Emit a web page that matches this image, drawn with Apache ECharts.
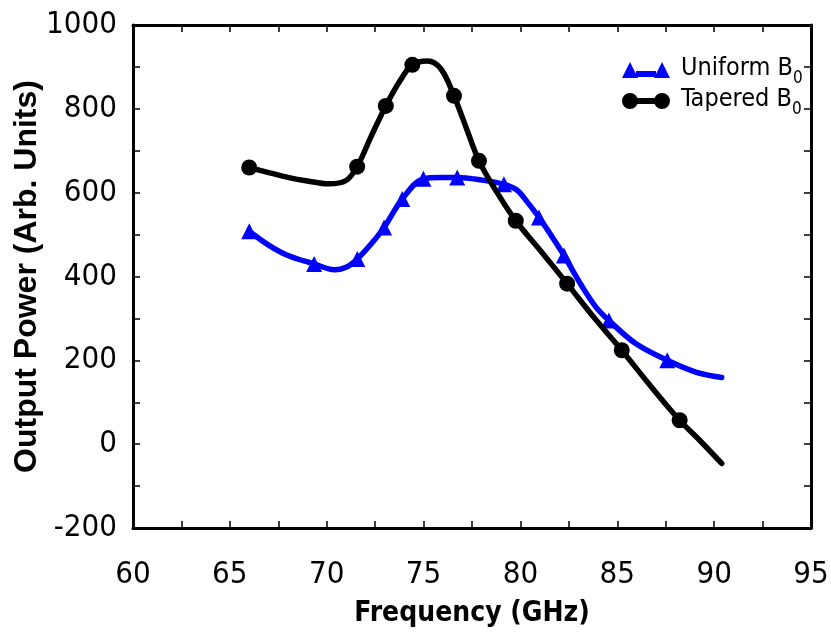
<!DOCTYPE html>
<html>
<head>
<meta charset="utf-8">
<script src="https://cdn.jsdelivr.net/npm/echarts@6/dist/echarts.min.js"></script>
<style>html,body{margin:0;padding:0;background:#fff;}#c{width:831px;height:635px;}</style>
</head>
<body>
<div id="c"></div>
<script>
// Tick labels
const xTicks = [60, 65, 70, 75, 80, 85, 90, 95];
const yTicks = [-200, 0, 200, 400, 600, 800, 1000];

// Uniform B0: curve trace and measured marker points
const uniformCurveX = [66.0, 67.0, 68.0, 69.35, 70.4, 71.0, 71.58, 72.3, 72.96, 73.9, 74.99, 75.9, 76.74, 78.0, 79.15, 79.8, 80.3, 80.96, 81.6, 82.25, 83.2, 83.9, 84.57, 85.95, 87.58, 89.05, 90.39];
const uniformCurveY = [508, 475, 450, 430, 416, 422, 442, 478, 517, 585, 633, 636, 636, 630, 620, 607, 581, 541, 497, 450, 375, 327, 295, 240, 200, 172, 159];
const uniformMarkX = [66.0, 69.35, 71.58, 72.96, 73.9, 74.99, 76.74, 79.15, 80.96, 82.25, 84.57, 87.58];
const uniformMarkY = [508, 430, 442, 517, 585, 633, 636, 620, 541, 450, 295, 200];

// Tapered B0: curve trace and measured marker points
const taperedCurveX = [66.0, 67.0, 68.05, 69.0, 70.1, 71.0, 71.57, 72.3, 73.05, 73.8, 74.42, 75.2, 75.9, 76.57, 77.2, 77.86, 78.8, 79.76, 81.1, 82.41, 83.8, 85.23, 86.7, 88.22, 89.3, 90.39];
const taperedCurveY = [660, 648, 636, 628, 621, 629, 662, 735, 807, 868, 905, 914, 895, 831, 755, 676, 600, 533, 458, 383, 302, 224, 140, 57, 7, -46];
const taperedMarkX = [66.0, 71.57, 73.05, 74.42, 76.57, 77.86, 79.76, 82.41, 85.23, 88.22];
const taperedMarkY = [660, 662, 807, 905, 831, 676, 533, 383, 224, 57];

const zip = (xs, ys) => xs.map((x, i) => [x, ys[i]]);

const NARROW = '"Liberation Sans Narrow", "DejaVu Sans Condensed", "Liberation Sans", Arial, sans-serif';
const BLUE = '#0000ff';
const BLACK = '#000000';

const axisCommon = {
  axisLine: { show: true, onZero: false, lineStyle: { color: '#000', width: 3 } },
  axisTick: { show: true, inside: true, length: 7, lineStyle: { color: '#000', width: 1.5 } },
  minorTick: { show: true, splitNumber: 2, length: 7, lineStyle: { color: '#000', width: 1.5 } },
  splitLine: { show: false },
  minorSplitLine: { show: false }
};

const chart = echarts.init(document.getElementById('c'));
chart.setOption({
  animation: false,
  backgroundColor: '#fff',
  grid: { left: 133, right: 20, top: 25, bottom: 107, containLabel: false, outerBoundsMode: 'none' },
  legend: {
    orient: 'vertical',
    left: 617,
    top: 51,
    itemWidth: 48,
    itemHeight: 16,
    itemGap: 0,
    data: [
      { name: 'Uniform B0', icon: 'path://M0,16 L8,0 L16,16 Z M14,9 L34,9 L34,15 L14,15 Z M32,16 L40,0 L48,16 Z' },
      { name: 'Tapered B0', icon: 'path://M0,8 A8,8 0 1 1 16,8 A8,8 0 1 1 0,8 Z M14,5 L34,5 L34,11 L14,11 Z M32,8 A8,8 0 1 1 48,8 A8,8 0 1 1 32,8 Z' }
    ],
    formatter: name => '{m|' + name.slice(0, -1) + '}{s|' + name.slice(-1) + '}',
    textStyle: {
      padding: [0, 0, 0, 6],
      rich: {
        m: { fontSize: 25, fontFamily: NARROW, color: '#000', lineHeight: 28, verticalAlign: 'top' },
        s: { fontSize: 17, fontFamily: NARROW, color: '#000', lineHeight: 17, padding: [14, 0, 0, 0], verticalAlign: 'top' }
      }
    }
  },
  xAxis: [
    Object.assign({}, axisCommon, {
      type: 'value', min: xTicks[0], max: xTicks[xTicks.length - 1], interval: 5, position: 'bottom',
      name: 'Frequency (GHz)', nameLocation: 'middle', nameGap: 72,
      nameTextStyle: { fontSize: 28, fontWeight: 'bold', fontFamily: NARROW, color: '#000' },
      axisLabel: { show: true, margin: 31, fontSize: 31, fontFamily: NARROW, color: '#000', formatter: v => String(v) }
    }),
    Object.assign({}, axisCommon, {
      type: 'value', min: xTicks[0], max: xTicks[xTicks.length - 1], interval: 5, position: 'top',
      axisLabel: { show: false }
    })
  ],
  yAxis: [
    Object.assign({}, axisCommon, {
      type: 'value', min: yTicks[0], max: yTicks[yTicks.length - 1], interval: 200, position: 'left',
      name: 'Output Power (Arb. Units)', nameLocation: 'middle', nameGap: 90, nameRotate: 90, nameMoveOverlap: false,
      nameTextStyle: { fontSize: 32, fontWeight: 'bold', fontFamily: '"Liberation Sans", Arial, sans-serif', color: '#000' },
      axisLabel: { show: true, margin: 16, fontSize: 31, fontFamily: NARROW, color: '#000', formatter: v => String(v) }
    }),
    Object.assign({}, axisCommon, {
      type: 'value', min: yTicks[0], max: yTicks[yTicks.length - 1], interval: 200, position: 'right',
      axisLabel: { show: false }
    })
  ],
  series: [
    {
      name: 'Uniform B0', type: 'line', xAxisIndex: 0, yAxisIndex: 0,
      data: zip(uniformCurveX, uniformCurveY), smooth: 0.35, showSymbol: false, symbol: 'none',
      lineStyle: { color: BLUE, width: 5.5, cap: 'round', join: 'round' }, itemStyle: { color: BLUE }, z: 2
    },
    {
      name: 'Uniform B0', type: 'scatter', xAxisIndex: 0, yAxisIndex: 0,
      data: zip(uniformMarkX, uniformMarkY), symbol: 'triangle', symbolSize: 16,
      itemStyle: { color: BLUE, opacity: 1 }, z: 3
    },
    {
      name: 'Tapered B0', type: 'line', xAxisIndex: 0, yAxisIndex: 0,
      data: zip(taperedCurveX, taperedCurveY), smooth: 0.35, showSymbol: false, symbol: 'none',
      lineStyle: { color: BLACK, width: 5.5, cap: 'round', join: 'round' }, itemStyle: { color: BLACK }, z: 4
    },
    {
      name: 'Tapered B0', type: 'scatter', xAxisIndex: 0, yAxisIndex: 0,
      data: zip(taperedMarkX, taperedMarkY), symbol: 'circle', symbolSize: 16,
      itemStyle: { color: BLACK, opacity: 1 }, z: 5
    }
  ]
});
</script>
</body>
</html>
